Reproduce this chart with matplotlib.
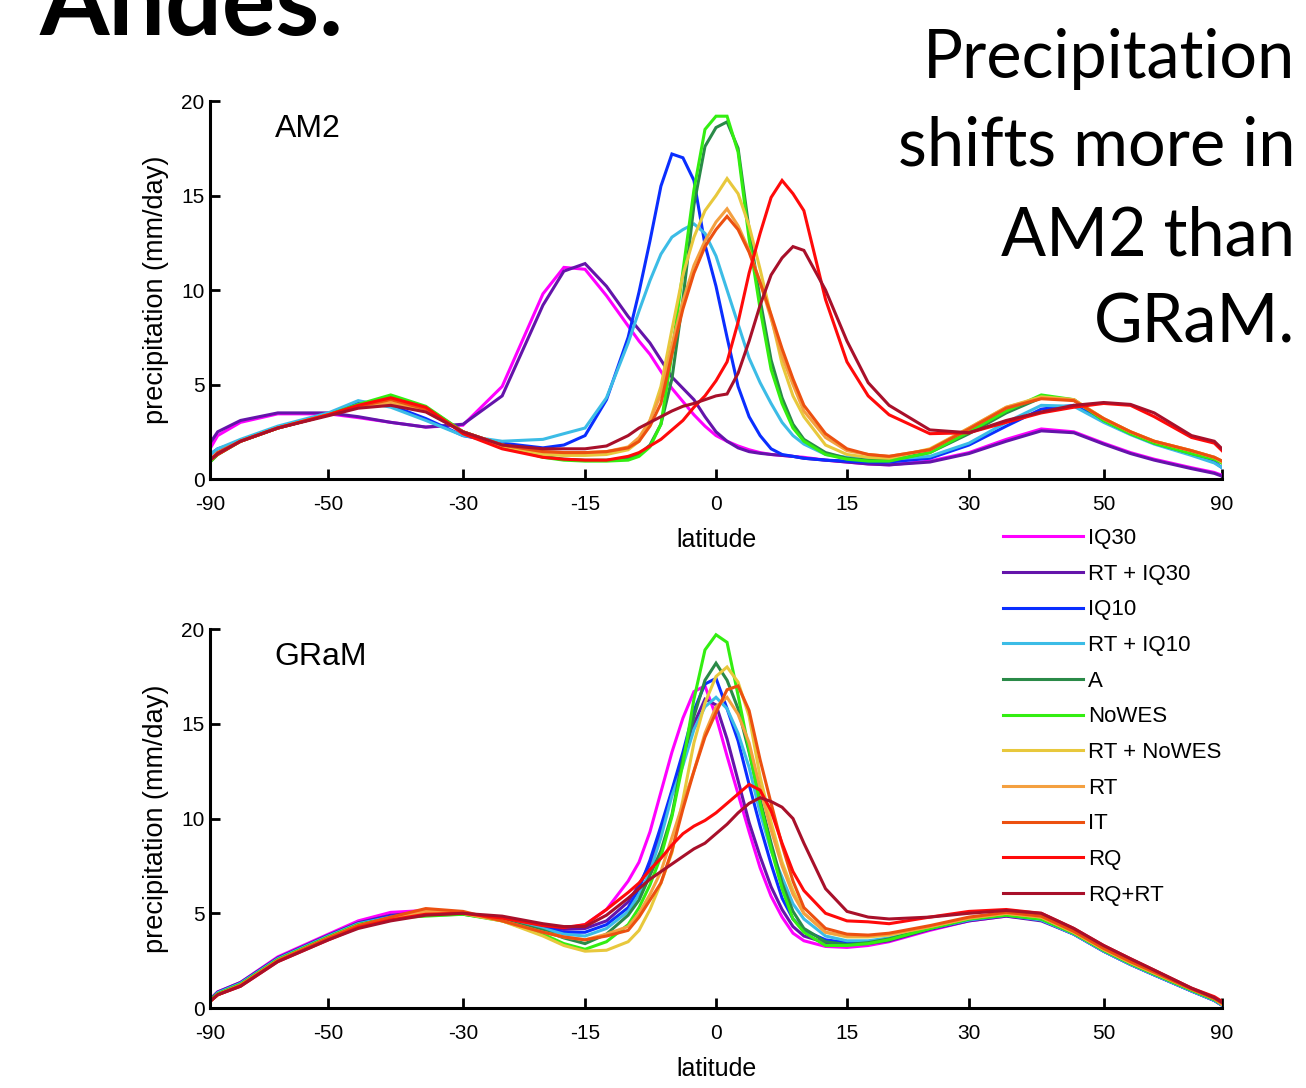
import numpy as np
import matplotlib
matplotlib.use('Agg')
import matplotlib.pyplot as plt

plt.rcParams['font.family'] = ['Liberation Sans', 'DejaVu Sans']
plt.rcParams['axes.unicode_minus'] = False

# latitude grid (deg)
lat = [-90, -80, -70, -60, -50, -45, -40, -35, -30, -25, -20, -17.5, -15, -12.5, -10,
       -8.75, -7.5, -6.25, -5, -3.75, -2.5, -1.25, 0, 1.25, 2.5, 3.75, 5, 6.25, 7.5,
       8.75, 10, 12.5, 15, 17.5, 20, 25, 30, 35, 40, 45, 50, 55, 60, 70, 80, 90]

# zonal mean precipitation (mm/day), AM2
am2_iq30 = [1.6, 2.3, 3.0, 3.45, 3.45, 3.25, 3.0, 2.75, 2.85, 4.9, 9.8, 11.2, 11.1, 9.7, 8.1,
            7.3, 6.6, 5.7, 4.8, 4.1, 3.4, 2.8, 2.3, 2.0, 1.75, 1.55, 1.4, 1.3, 1.25, 1.2,
            1.15, 1.0, 0.9, 0.8, 0.75, 0.95, 1.4, 2.1, 2.65, 2.5, 1.9, 1.4, 1.05, 0.6, 0.35, 0.2]
am2_rt_iq30 = [1.9, 2.5, 3.1, 3.5, 3.5, 3.3, 3.0, 2.75, 2.9, 4.4, 9.2, 11.0, 11.4, 10.2, 8.6,
               7.9, 7.2, 6.3, 5.4, 4.8, 4.2, 3.3, 2.5, 2.0, 1.65, 1.45, 1.36, 1.3, 1.25, 1.2,
               1.1, 1.0, 0.9, 0.8, 0.75, 0.9, 1.35, 2.0, 2.55, 2.45, 1.85, 1.35, 1.0, 0.55, 0.3, 0.15]
am2_iq10 = [1.3, 1.6, 2.0, 2.7, 3.4, 4.1, 3.9, 3.2, 2.3, 1.9, 1.65, 1.8, 2.3, 4.2, 7.5,
            9.9, 12.6, 15.5, 17.2, 17.0, 15.8, 12.4, 10.2, 7.5, 4.9, 3.3, 2.3, 1.6, 1.3, 1.2,
            1.1, 1.0, 0.95, 0.9, 0.9, 1.1, 1.8, 2.8, 3.7, 3.9, 3.1, 2.4, 1.9, 1.3, 0.9, 0.6]
am2_rt_iq10 = [1.3, 1.6, 2.1, 2.8, 3.5, 4.15, 3.8, 3.1, 2.3, 2.0, 2.1, 2.4, 2.7, 4.3, 7.2,
               8.9, 10.5, 11.9, 12.8, 13.2, 13.5, 13.0, 11.8, 10.0, 8.2, 6.4, 5.1, 4.0, 3.0, 2.3,
               1.85, 1.3, 1.15, 1.1, 1.05, 1.2, 1.9, 3.0, 3.9, 3.85, 3.0, 2.35, 1.85, 1.25, 0.85, 0.6]
am2_a = [0.9, 1.3, 2.0, 2.7, 3.4, 3.9, 4.3, 3.8, 2.5, 1.8, 1.2, 1.05, 1.0, 1.0, 1.1,
         1.3, 1.8, 2.9, 5.3, 9.5, 14.5, 17.6, 18.6, 18.9, 17.5, 13.2, 9.5, 6.3, 4.3, 2.9,
         2.1, 1.4, 1.1, 1.0, 1.0, 1.4, 2.4, 3.5, 4.3, 4.2, 3.1, 2.4, 1.9, 1.35, 1.05, 0.85]
am2_nowes = [0.9, 1.3, 2.0, 2.7, 3.4, 3.95, 4.45, 3.85, 2.5, 1.75, 1.15, 1.0, 0.95, 0.95, 1.0,
             1.2, 1.7, 2.9, 6.6, 11.0, 15.3, 18.5, 19.2, 19.2, 17.3, 12.7, 9.0, 5.8, 4.0, 2.7,
             2.0, 1.3, 1.05, 0.95, 0.95, 1.4, 2.5, 3.6, 4.45, 4.2, 3.1, 2.4, 1.9, 1.35, 1.05, 0.85]
am2_rt_nowes = [1.0, 1.35, 2.0, 2.7, 3.4, 3.8, 4.05, 3.6, 2.5, 1.75, 1.3, 1.25, 1.25, 1.3, 1.55,
                2.0, 3.1, 4.9, 7.9, 10.8, 12.8, 14.2, 15.0, 15.9, 15.1, 13.4, 11.1, 8.6, 6.1, 4.4,
                3.3, 1.8, 1.3, 1.15, 1.1, 1.6, 2.7, 3.8, 4.35, 4.2, 3.2, 2.5, 2.0, 1.5, 1.15, 0.9]
am2_rt = [1.0, 1.4, 2.0, 2.7, 3.4, 3.8, 4.0, 3.6, 2.5, 1.8, 1.45, 1.4, 1.4, 1.45, 1.7,
          2.2, 3.1, 4.5, 7.1, 9.4, 11.3, 12.6, 13.6, 14.3, 13.4, 12.1, 10.4, 8.5, 6.5, 5.0,
          3.6, 2.2, 1.5, 1.3, 1.2, 1.55, 2.7, 3.8, 4.3, 4.2, 3.2, 2.5, 2.0, 1.5, 1.15, 0.95]
am2_it = [1.0, 1.4, 2.0, 2.7, 3.4, 3.85, 4.2, 3.7, 2.5, 1.8, 1.45, 1.4, 1.4, 1.45, 1.65,
          2.0, 2.8, 4.0, 6.6, 9.0, 10.9, 12.3, 13.2, 13.9, 13.2, 12.0, 10.4, 8.7, 6.9, 5.3,
          3.9, 2.4, 1.6, 1.3, 1.2, 1.55, 2.65, 3.75, 4.25, 4.15, 3.2, 2.5, 2.0, 1.5, 1.15, 0.95]
am2_rq = [1.0, 1.3, 2.0, 2.7, 3.4, 3.9, 4.3, 3.8, 2.4, 1.6, 1.15, 1.05, 1.0, 1.0, 1.2,
          1.4, 1.75, 2.1, 2.6, 3.1, 3.8, 4.4, 5.2, 6.2, 8.3, 10.9, 13.0, 14.9, 15.8, 15.1,
          14.2, 9.5, 6.2, 4.4, 3.4, 2.4, 2.45, 3.0, 3.5, 3.8, 4.0, 3.9, 3.3, 2.2, 1.9, 1.5]
am2_rq_rt = [1.0, 1.35, 2.0, 2.7, 3.35, 3.75, 3.9, 3.55, 2.5, 1.8, 1.6, 1.6, 1.6, 1.75, 2.3,
             2.7, 3.0, 3.3, 3.6, 3.85, 4.0, 4.2, 4.4, 4.5, 5.6, 7.3, 9.2, 10.8, 11.7, 12.3,
             12.1, 10.0, 7.3, 5.1, 3.9, 2.6, 2.45, 3.1, 3.55, 3.9, 4.05, 3.95, 3.5, 2.3, 2.0, 1.6]

# zonal mean precipitation (mm/day), GRaM
gram_iq30 = [0.45, 0.85, 1.35, 2.7, 3.9, 4.6, 5.05, 5.15, 5.0, 4.65, 4.3, 4.2, 4.4, 5.2, 6.7,
             7.7, 9.3, 11.4, 13.5, 15.3, 16.7, 17.0, 15.4, 13.3, 11.3, 9.3, 7.4, 5.9, 4.8, 3.95,
             3.55, 3.25, 3.2, 3.3, 3.5, 4.1, 4.6, 4.85, 4.65, 3.9, 3.0, 2.3, 1.75, 0.9, 0.4, 0.15]
gram_rt_iq30 = [0.45, 0.85, 1.35, 2.65, 3.85, 4.5, 4.9, 5.05, 5.0, 4.7, 4.3, 4.15, 4.2, 4.6, 5.6,
                6.5, 7.6, 9.2, 11.4, 13.3, 15.0, 16.3, 16.0, 14.2, 12.0, 9.8, 8.0, 6.4, 5.2, 4.3,
                3.8, 3.45, 3.35, 3.4, 3.55, 4.15, 4.6, 4.85, 4.6, 3.9, 3.0, 2.3, 1.75, 0.9, 0.4, 0.15]
gram_iq10 = [0.4, 0.8, 1.3, 2.6, 3.8, 4.45, 4.85, 5.0, 5.0, 4.7, 4.25, 4.0, 4.0, 4.4, 5.3,
             6.3, 7.8, 9.6, 11.5, 13.5, 15.7, 17.1, 17.4, 15.8, 14.1, 11.8, 9.6, 7.6, 5.8, 4.7,
             4.1, 3.6, 3.45, 3.5, 3.65, 4.2, 4.65, 4.9, 4.65, 3.9, 3.0, 2.3, 1.75, 0.9, 0.4, 0.15]
gram_rt_iq10 = [0.4, 0.8, 1.3, 2.6, 3.8, 4.45, 4.8, 5.0, 5.0, 4.7, 4.2, 3.9, 3.8, 4.2, 5.1,
                6.0, 7.2, 9.0, 11.2, 12.8, 14.7, 15.9, 16.4, 15.8, 14.5, 12.7, 10.3, 8.3, 6.9, 5.5,
                4.7, 3.8, 3.55, 3.55, 3.7, 4.2, 4.65, 4.9, 4.65, 3.9, 3.0, 2.3, 1.75, 0.9, 0.4, 0.15]
gram_a = [0.4, 0.75, 1.25, 2.55, 3.75, 4.4, 4.75, 4.9, 4.95, 4.65, 4.1, 3.7, 3.4, 3.9, 4.9,
          5.7, 7.0, 8.3, 10.2, 13.2, 15.4, 17.3, 18.2, 17.3, 15.8, 13.5, 11.0, 8.7, 6.6, 5.1,
          4.2, 3.5, 3.35, 3.45, 3.65, 4.2, 4.7, 4.9, 4.7, 3.95, 3.05, 2.35, 1.8, 0.95, 0.45, 0.2]
gram_nowes = [0.4, 0.75, 1.25, 2.55, 3.75, 4.4, 4.75, 4.85, 4.95, 4.6, 3.9, 3.4, 3.1, 3.5, 4.4,
              5.3, 6.5, 8.0, 10.1, 12.9, 16.3, 18.9, 19.7, 19.3, 16.5, 13.6, 10.8, 8.4, 6.3, 4.7,
              4.0, 3.3, 3.3, 3.4, 3.6, 4.2, 4.7, 4.9, 4.7, 3.95, 3.05, 2.35, 1.8, 0.95, 0.45, 0.2]
gram_rt_nowes = [0.35, 0.7, 1.2, 2.5, 3.7, 4.35, 4.75, 5.1, 5.0, 4.6, 3.8, 3.3, 3.0, 3.05, 3.5,
                 4.1, 5.2, 6.6, 8.2, 11.0, 14.0, 16.1, 17.5, 18.0, 17.2, 15.4, 12.2, 9.8, 7.7, 6.2,
                 5.0, 4.0, 3.75, 3.75, 3.85, 4.3, 4.75, 5.0, 4.8, 4.0, 3.1, 2.4, 1.85, 1.0, 0.5, 0.2]
gram_rt = [0.35, 0.7, 1.2, 2.5, 3.7, 4.35, 4.75, 5.1, 5.0, 4.6, 4.0, 3.75, 3.6, 3.9, 4.3,
           5.0, 6.0, 7.2, 9.0, 10.8, 12.5, 14.5, 15.9, 16.4, 15.5, 14.0, 11.6, 9.4, 7.5, 6.0,
           5.0, 4.0, 3.8, 3.8, 3.9, 4.3, 4.75, 5.0, 4.8, 4.0, 3.1, 2.4, 1.85, 1.0, 0.5, 0.2]
gram_it = [0.35, 0.7, 1.2, 2.5, 3.7, 4.35, 4.8, 5.25, 5.1, 4.6, 4.0, 3.75, 3.6, 3.8, 4.1,
           4.8, 5.7, 6.6, 8.3, 10.5, 12.5, 14.3, 15.6, 16.8, 17.0, 15.7, 13.1, 10.8, 8.6, 6.7,
           5.3, 4.2, 3.9, 3.85, 3.95, 4.35, 4.8, 5.05, 4.85, 4.05, 3.15, 2.45, 1.9, 1.0, 0.5, 0.25]
gram_rq = [0.35, 0.7, 1.15, 2.45, 3.6, 4.25, 4.65, 4.95, 5.0, 4.75, 4.35, 4.25, 4.4, 5.2, 6.1,
           6.6, 7.3, 7.9, 8.6, 9.2, 9.6, 9.9, 10.3, 10.8, 11.3, 11.8, 11.5, 10.4, 8.7, 7.2,
           6.2, 5.0, 4.6, 4.55, 4.45, 4.8, 5.1, 5.2, 5.0, 4.2, 3.3, 2.6, 2.0, 1.05, 0.6, 0.35]
gram_rq_rt = [0.35, 0.7, 1.15, 2.45, 3.6, 4.2, 4.6, 4.9, 5.0, 4.85, 4.45, 4.3, 4.3, 4.9, 5.8,
              6.3, 6.8, 7.2, 7.6, 8.0, 8.4, 8.7, 9.2, 9.7, 10.3, 10.8, 11.1, 10.9, 10.6, 10.0,
              8.7, 6.3, 5.1, 4.8, 4.7, 4.8, 5.0, 5.15, 5.0, 4.2, 3.3, 2.6, 2.0, 1.05, 0.55, 0.3]

labels = ['IQ30', 'RT + IQ30', 'IQ10', 'RT + IQ10', 'A', 'NoWES',
          'RT + NoWES', 'RT', 'IT', 'RQ', 'RQ+RT']
colors = ['#ff00ff', '#6414aa', '#0a2eff', '#3cbce6', '#2a8a48', '#33ee11',
          '#e8c83c', '#f4a040', '#ec5010', '#ff0a0a', '#a8102a']
am2 = [am2_iq30, am2_rt_iq30, am2_iq10, am2_rt_iq10, am2_a, am2_nowes,
       am2_rt_nowes, am2_rt, am2_it, am2_rq, am2_rq_rt]
gram = [gram_iq30, gram_rt_iq30, gram_iq10, gram_rt_iq10, gram_a, gram_nowes,
        gram_rt_nowes, gram_rt, gram_it, gram_rq, gram_rq_rt]


# x axis is area-weighted: sin(latitude)
def sin_fwd(x):
    return np.sin(np.deg2rad(np.clip(x, -90, 90)))


def sin_inv(s):
    return np.rad2deg(np.arcsin(np.clip(s, -1, 1)))


def draw_panel(ax, series, name):
    lines = []
    for vals, c in zip(series, colors):
        ln, = ax.plot(lat, vals, color=c, lw=2.2, solid_joinstyle='miter')
        lines.append(ln)
    ax.set_xscale('function', functions=(sin_fwd, sin_inv))
    ax.set_xlim(-90, 90)
    ax.set_ylim(0, 20)
    ax.set_xticks([-90, -50, -30, -15, 0, 15, 30, 50, 90])
    ax.set_yticks([0, 5, 10, 15, 20])
    ax.xaxis.set_minor_locator(plt.NullLocator())
    ax.spines['top'].set_visible(False)
    ax.spines['right'].set_visible(False)
    for s in ('left', 'bottom'):
        ax.spines[s].set_linewidth(2.2)
    ax.tick_params(direction='in', length=7, width=2, labelsize=15)
    ax.tick_params(axis='x', pad=11.5)
    ax.tick_params(axis='y', pad=4)
    ax.set_xlabel('latitude', fontsize=18, labelpad=10)
    ax.set_ylabel('precipitation (mm/day)', fontsize=19.5)
    ax.yaxis.set_label_coords(-0.041, 0.5)
    ax.text(0.064, 0.905, name, transform=ax.transAxes, fontsize=23,
            va='baseline', ha='left')
    return lines


fig = plt.figure(figsize=(13.06, 10.88), dpi=100)
ax1 = fig.add_axes([0.1608, 0.5597, 0.7749, 0.3474])
ax2 = fig.add_axes([0.1608, 0.0735, 0.7749, 0.3483])

handles = draw_panel(ax1, am2, 'AM2')
draw_panel(ax2, gram, 'GRaM')

fig.legend(handles, labels, loc='upper left', bbox_to_anchor=(1003 / 1306, 1 - 528 / 1088),
           frameon=False, handlelength=3.6, handletextpad=0.23,
           labelspacing=0.66, borderpad=0, borderaxespad=0,
           prop={'family': 'Liberation Sans', 'size': 16})

fig.text(40 / 1306, 1 - 35 / 1088, 'Andes.', fontsize=72, fontweight='bold',
         family='Lato', ha='left', va='baseline')
for txt, yb in zip(['Precipitation', 'shifts more in', 'AM2 than', 'GRaM.'],
                   [78, 166, 255, 343]):
    fig.text(1295 / 1306, 1 - yb / 1088, txt, fontsize=48, family='Lato',
             ha='right', va='baseline')

fig.savefig('out.png', dpi=100)
